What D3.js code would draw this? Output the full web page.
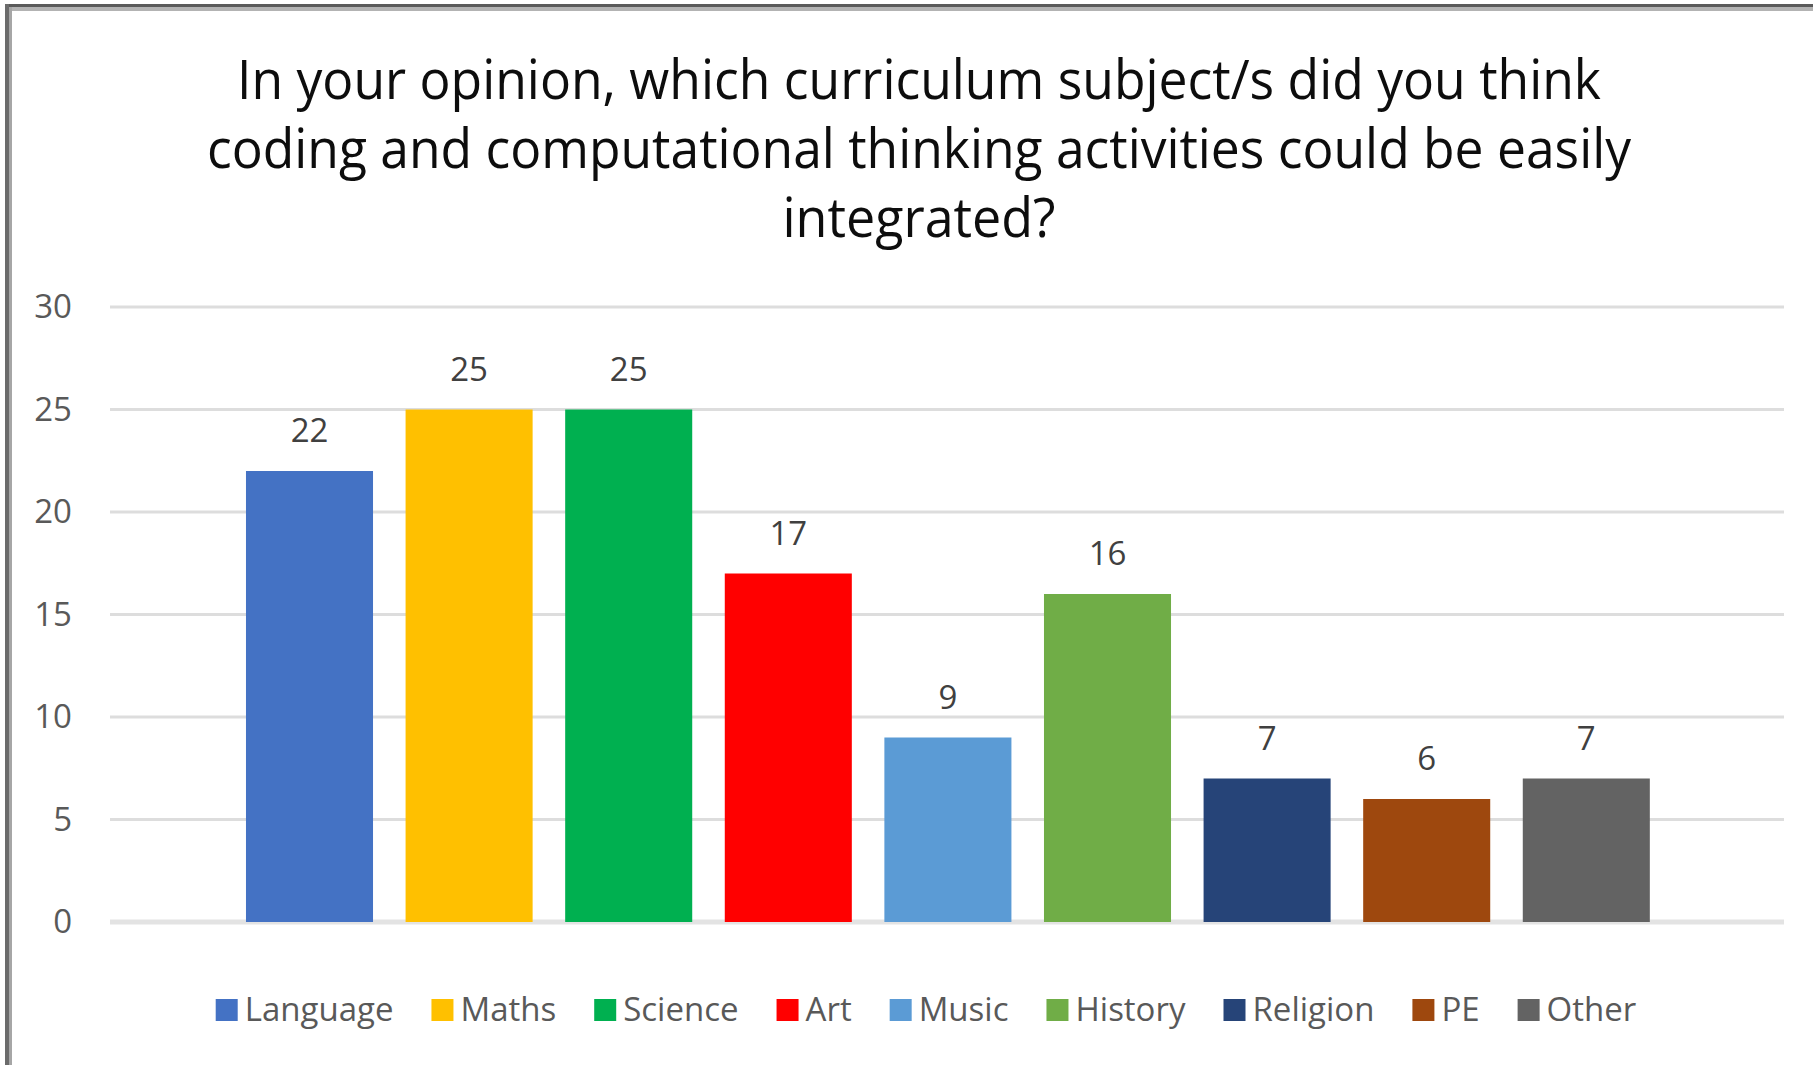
<!DOCTYPE html>
<html>
<head>
<meta charset="utf-8">
<script src="https://cdn.jsdelivr.net/npm/d3@7"></script>
<style>
  body { margin: 0; background: #fff; }
  svg { display: block; }
</style>
</head>
<body>
<script>
var w = 1813;
var h = 1065;

// data
var subjects = ["Language", "Maths", "Science", "Art", "Music", "History", "Religion", "PE", "Other"];
var responses = [22, 25, 25, 17, 9, 16, 7, 6, 7];
var barColors = ["#4472C4", "#FFC000", "#00B050", "#FF0000", "#5B9BD5", "#70AD47", "#264478", "#9E480E", "#636363"];
var yTicks = [0, 5, 10, 15, 20, 25, 30];
var titleLines = [
    "In your opinion, which curriculum subject/s did you think",
    "coding and computational thinking activities could be easily",
    "integrated?"
];

var font = "'Open Sans', 'Noto Sans', sans-serif";

var svg = d3.select("body")
    .append("svg")
    .attr("width", w)
    .attr("height", h);

// frame (only left and top edges show)
svg.append("rect").attr("x", 5).attr("y", 4).attr("width", w - 5).attr("height", 3).attr("fill", "#5a5a5a");
svg.append("rect").attr("x", 9).attr("y", 7).attr("width", w - 9).attr("height", 4).attr("fill", "#b3b3b3");
svg.append("rect").attr("x", 5).attr("y", 4).attr("width", 4).attr("height", h - 4).attr("fill", "#6b6b6b");
svg.append("rect").attr("x", 9).attr("y", 7).attr("width", 3).attr("height", h - 7).attr("fill", "#a6a6a6");

// title
var titleWidths = [1364, 1424, 273];
svg.selectAll(".title")
    .data(titleLines)
    .enter()
    .append("text")
    .attr("class", "title")
    .attr("x", 919)
    .attr("y", function (d, i) { return 99 + i * 69; })
    .attr("text-anchor", "middle")
    .attr("textLength", function (d, i) { return titleWidths[i]; })
    .attr("lengthAdjust", "spacingAndGlyphs")
    .style("font-family", font)
    .style("font-size", "55px")
    .style("fill", "#0d0d0d")
    .text(function (d) { return d; });

var xScale = d3.scaleBand()
    .domain(subjects)
    .range([229.7, 1666.1])
    .paddingInner(0.204)
    .paddingOuter(0.102);

var yScale = d3.scaleLinear()
    .domain([0, 30])
    .range([922, 307]);

// gridlines
svg.selectAll(".grid")
    .data(yTicks)
    .enter()
    .append("line")
    .attr("class", "grid")
    .attr("x1", 110)
    .attr("x2", 1784)
    .attr("y1", function (d) { return yScale(d); })
    .attr("y2", function (d) { return yScale(d); })
    .style("stroke", function (d) { return d === 0 ? "#e3e3e3" : "#dddddd"; })
    .style("stroke-width", function (d) { return d === 0 ? 5 : 3; });

// y axis labels
var yAxis = d3.axisLeft(yScale)
    .tickValues(yTicks)
    .tickSize(0)
    .tickPadding(0);

var yg = svg.append("g")
    .attr("transform", "translate(72,0)")
    .call(yAxis);
yg.select(".domain").remove();
yg.selectAll("text")
    .style("font-family", font)
    .style("font-size", "33px")
    .style("fill", "#595959");

// bars
svg.selectAll(".bar")
    .data(responses)
    .enter()
    .append("rect")
    .attr("class", "bar")
    .attr("x", function (d, i) { return xScale(subjects[i]); })
    .attr("y", function (d) { return yScale(d); })
    .attr("width", xScale.bandwidth())
    .attr("height", function (d) { return yScale(0) - yScale(d); })
    .style("fill", function (d, i) { return barColors[i]; });

// value labels
svg.selectAll(".val")
    .data(responses)
    .enter()
    .append("text")
    .attr("class", "val")
    .attr("x", function (d, i) { return xScale(subjects[i]) + xScale.bandwidth() / 2; })
    .attr("y", function (d) { return yScale(d) - 29; })
    .attr("text-anchor", "middle")
    .style("font-family", font)
    .style("font-size", "33px")
    .style("fill", "#404040")
    .text(function (d) { return d; });

// legend
var legend = svg.append("g");
var items = legend.selectAll(".item")
    .data(subjects)
    .enter()
    .append("g")
    .attr("class", "item");

items.append("rect")
    .attr("y", 999)
    .attr("width", 22)
    .attr("height", 22)
    .style("fill", function (d, i) { return barColors[i]; });

items.append("text")
    .attr("x", 29)
    .attr("y", 1021)
    .style("font-family", font)
    .style("font-size", "33px")
    .style("fill", "#595959")
    .text(function (d) { return d; });

var cursor = 0;
items.each(function () {
    var g = d3.select(this);
    g.attr("transform", "translate(" + cursor + ",0)");
    cursor += 29 + g.select("text").node().getComputedTextLength() + 38;
});
var total = cursor - 38;
legend.attr("transform", "translate(" + (926 - total / 2) + ",0)");
</script>
</body>
</html>
